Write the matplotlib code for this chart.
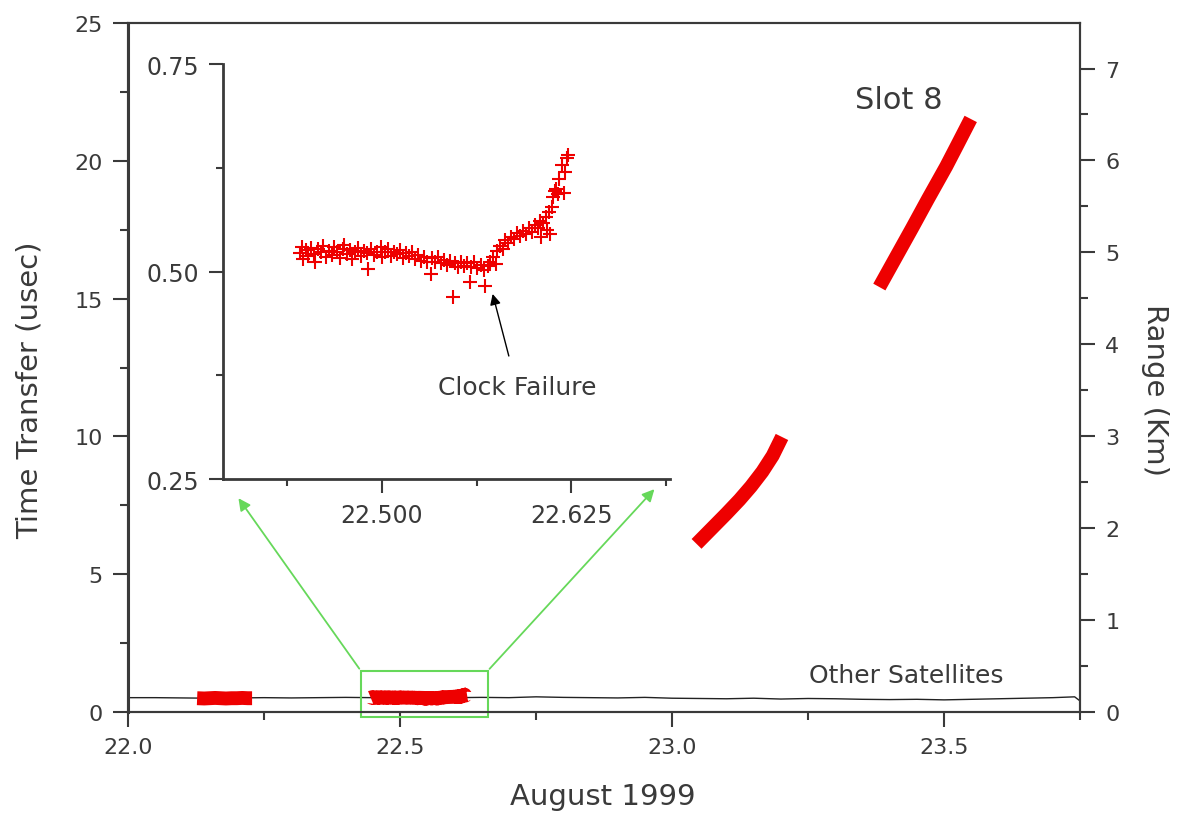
import numpy as np
import matplotlib.pyplot as plt
from matplotlib.patches import Rectangle
from matplotlib.ticker import MultipleLocator, FormatStrFormatter

plt.rcParams['font.family'] = ['DejaVu Sans']

#Inputs
# slot 8 pass around the clock failure (day of August 1999, usec)
t_fail = [22.446, 22.447, 22.448, 22.450, 22.451, 22.453, 22.455, 22.456, 22.458, 22.460,
          22.461, 22.463, 22.465, 22.467, 22.468, 22.470, 22.472, 22.474, 22.475, 22.477,
          22.479, 22.480, 22.482, 22.484, 22.486, 22.488, 22.490, 22.491, 22.493, 22.495,
          22.497, 22.499, 22.500, 22.502, 22.504, 22.506, 22.508, 22.510, 22.512, 22.514,
          22.516, 22.518, 22.520, 22.522, 22.524, 22.526, 22.528, 22.530, 22.532, 22.533,
          22.535, 22.537, 22.539, 22.541, 22.543, 22.545, 22.547, 22.548, 22.550, 22.552,
          22.554, 22.556, 22.558, 22.559, 22.561, 22.563, 22.565, 22.567, 22.568, 22.570,
          22.571, 22.573, 22.575, 22.576, 22.578, 22.580, 22.581, 22.583, 22.585, 22.587,
          22.589, 22.591, 22.593, 22.595, 22.597, 22.599, 22.601, 22.603, 22.604, 22.605,
          22.606, 22.608, 22.609, 22.610, 22.611, 22.612, 22.613, 22.614, 22.615, 22.616,
          22.617, 22.619, 22.620, 22.621, 22.622, 22.623]
dt_fail = [0.522, 0.530, 0.515, 0.526, 0.519, 0.528, 0.521, 0.512, 0.527, 0.523,
           0.531, 0.518, 0.525, 0.520, 0.529, 0.524, 0.516, 0.527, 0.532, 0.521,
           0.526, 0.515, 0.523, 0.528, 0.519, 0.525, 0.522, 0.503, 0.527, 0.520,
           0.524, 0.529, 0.517, 0.523, 0.527, 0.519, 0.524, 0.521, 0.526, 0.516,
           0.522, 0.519, 0.524, 0.515, 0.520, 0.513, 0.518, 0.511, 0.497, 0.516,
           0.512, 0.517, 0.510, 0.514, 0.508, 0.513, 0.469, 0.510, 0.506, 0.512,
           0.507, 0.510, 0.487, 0.505, 0.511, 0.504, 0.508, 0.502, 0.483, 0.507,
           0.512, 0.518, 0.509, 0.525, 0.531, 0.527, 0.538, 0.534, 0.542, 0.539,
           0.546, 0.543, 0.549, 0.545, 0.552, 0.548, 0.556, 0.553, 0.561, 0.542,
           0.558, 0.566, 0.550, 0.572, 0.545, 0.578, 0.590, 0.597, 0.600, 0.594,
           0.612, 0.628, 0.595, 0.620, 0.637, 0.640]

# earlier slot 8 pass
t_pass1 = [22.127, 22.140, 22.150, 22.160, 22.170, 22.180, 22.190, 22.200, 22.210, 22.220, 22.228]
dt_pass1 = [0.50, 0.49, 0.50, 0.51, 0.50, 0.49, 0.50, 0.50, 0.51, 0.50, 0.50]

# slot 8 after the failure
t_pass3 = [23.045, 23.070, 23.100, 23.124, 23.145, 23.166, 23.185, 23.202]
dt_pass3 = [6.10, 6.60, 7.20, 7.70, 8.18, 8.72, 9.30, 9.98]
t_pass4 = [23.381, 23.410, 23.441, 23.470, 23.504, 23.525, 23.549]
dt_pass4 = [15.42, 16.45, 17.55, 18.60, 19.80, 20.60, 21.52]

# other satellites
t_other = [22.00, 22.05, 22.10, 22.15, 22.20, 22.25, 22.30, 22.35, 22.40, 22.45,
           22.50, 22.55, 22.60, 22.65, 22.70, 22.75, 22.80, 22.85, 22.90, 22.95,
           23.00, 23.05, 23.10, 23.15, 23.20, 23.25, 23.30, 23.35, 23.40, 23.45,
           23.50, 23.55, 23.60, 23.65, 23.70, 23.74, 23.75]
dt_other = [0.52, 0.52, 0.51, 0.50, 0.51, 0.52, 0.51, 0.52, 0.53, 0.52,
            0.50, 0.49, 0.52, 0.53, 0.52, 0.55, 0.53, 0.52, 0.51, 0.53,
            0.50, 0.49, 0.48, 0.50, 0.47, 0.49, 0.48, 0.46, 0.45, 0.46,
            0.44, 0.46, 0.48, 0.50, 0.52, 0.55, 0.40]

us_to_km = 0.299792458   # light travel: 1 usec = 0.2998 km
zoom_box = (22.428, -0.18, 22.661, 1.49)

red = '#ee0000'
green = '#66d85a'
grey = '#3a3a3a'

fig = plt.figure(figsize=(11.79, 8.2), dpi=100)
ax = fig.add_axes([0.1086, 0.1305, 0.8075, 0.8402])

ax.plot(t_other, dt_other, color='#222222', lw=1.0)
for tt, dd in [(t_pass1, dt_pass1), (t_fail, dt_fail), (t_pass3, dt_pass3), (t_pass4, dt_pass4)]:
  ax.plot(tt, dd, color=red, lw=10, solid_capstyle='butt', solid_joinstyle='round')

ax.set_xlim(22.0, 23.75)
ax.set_ylim(0, 25)
ax.xaxis.set_major_locator(MultipleLocator(0.5))
ax.xaxis.set_minor_locator(MultipleLocator(0.25))
ax.xaxis.set_major_formatter(FormatStrFormatter('%.1f'))
ax.yaxis.set_major_locator(MultipleLocator(5))
ax.yaxis.set_minor_locator(MultipleLocator(2.5))
ax.tick_params(which='major', length=11, width=1.5, color=grey, labelsize=16, labelcolor=grey, pad=7)
ax.tick_params(which='minor', length=6, width=1.5, color=grey)
for s in ax.spines.values():
  s.set_color(grey)
  s.set_linewidth(1.5)
ax.spines['left'].set_linewidth(2.2)

ax.set_xlabel('August 1999', fontsize=21, color=grey, va='center')
ax.xaxis.set_label_coords(0.499, -0.122)
ax.set_ylabel('Time Transfer (usec)', fontsize=21, color=grey, va='center')
ax.yaxis.set_label_coords(-0.103, 0.469)

# right axis in km
ax2 = ax.twinx()
ax2.set_ylim(0, 25 * us_to_km)
ax2.yaxis.set_major_locator(MultipleLocator(1))
ax2.yaxis.set_minor_locator(MultipleLocator(0.5))
ax2.tick_params(which='major', length=11, width=1.5, color=grey, labelsize=16, labelcolor=grey, pad=7)
ax2.tick_params(which='minor', length=6, width=1.5, color=grey)
for s in ax2.spines.values():
  s.set_color(grey)
  s.set_linewidth(1.5)
ax2.set_ylabel('Range (Km)', fontsize=21, color=grey, rotation=270, va='center')
ax2.yaxis.set_label_coords(1.079, 0.469)

ax.text(23.417, 22.24, 'Slot 8', fontsize=22, color=grey, ha='center', va='center')
ax.text(23.43, 1.34, 'Other Satellites', fontsize=18, color=grey, ha='center', va='center')

# zoom box and connectors
x0, y0, x1, y1 = zoom_box
ax.add_patch(Rectangle((x0, y0), x1 - x0, y1 - y0, fill=False, ec=green, lw=1.5, zorder=5, clip_on=False))
ax.annotate('', xy=(22.200, 7.84), xytext=(x0, y1),
            arrowprops=dict(arrowstyle='-|>', color=green, lw=1.3, mutation_scale=18))
ax.annotate('', xy=(22.971, 8.16), xytext=(x1, y1),
            arrowprops=dict(arrowstyle='-|>', color=green, lw=1.3, mutation_scale=18))

# inset
axi = fig.add_axes([0.1891, 0.4146, 0.3791, 0.5061])
axi.plot(t_fail, dt_fail, '+', color=red, ms=10, mew=1.5)
axi.set_xlim(22.395, 22.69)
axi.set_ylim(0.25, 0.75)
axi.xaxis.set_major_locator(MultipleLocator(0.125))
axi.xaxis.set_minor_locator(MultipleLocator(0.0625))
axi.xaxis.set_major_formatter(FormatStrFormatter('%.3f'))
axi.yaxis.set_major_locator(MultipleLocator(0.25))
axi.yaxis.set_minor_locator(MultipleLocator(0.125))
axi.yaxis.set_major_formatter(FormatStrFormatter('%.2f'))
axi.tick_params(which='major', length=10, width=1.5, color=grey, labelsize=17, labelcolor=grey, pad=7)
axi.tick_params(which='minor', length=5, width=1.5, color=grey)
axi.spines['top'].set_visible(False)
axi.spines['right'].set_visible(False)
for s in ['left', 'bottom']:
  axi.spines[s].set_color(grey)
  axi.spines[s].set_linewidth(2)

axi.annotate('Clock Failure', xy=(22.573, 0.473), xytext=(22.589, 0.361),
             fontsize=18, color=grey, ha='center', va='center',
             arrowprops=dict(arrowstyle='-|>', color='black', lw=1.0, mutation_scale=16, shrinkA=12, shrinkB=0))

plt.savefig('out.png', dpi=100)
